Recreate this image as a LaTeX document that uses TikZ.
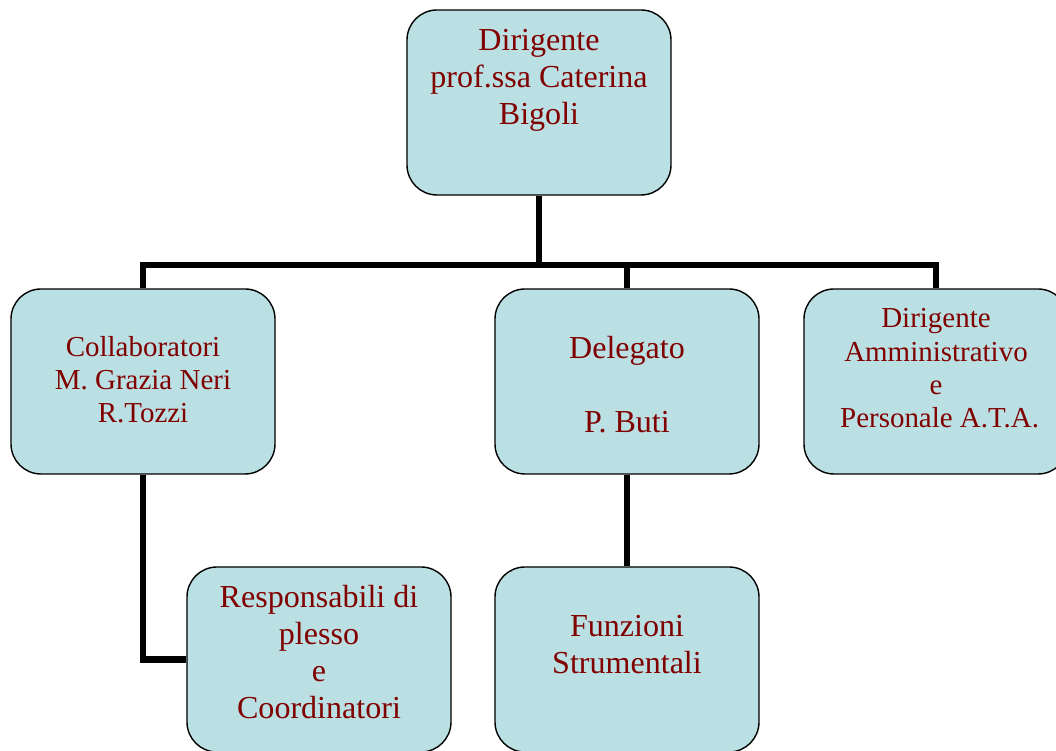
\documentclass[tikz,border=0pt]{standalone}
\usepackage{fontspec}
\setmainfont{Liberation Serif}
\usetikzlibrary{positioning}

\definecolor{boxfill}{RGB}{187,224,228}
\definecolor{txtred}{RGB}{128,0,0}

\begin{document}
\begin{tikzpicture}[
      box/.style={draw=black,line width=1pt,fill=boxfill,rounded corners=0.75cm,
        minimum width=6.6cm,minimum height=4.625cm,inner sep=0pt},
      lbl/.style={text=txtred,align=center,font=\fontsize{22.8}{26.4}\selectfont},
      slbl/.style={text=txtred,align=center,font=\fontsize{20.6}{23.6}\selectfont},
      conn/.style={line width=4.3pt},
    ]
    \useasboundingbox (0,0) rectangle (26.4,18.775);
    \clip (0,0) rectangle (26.4,18.775);

    % boxes
    \node[box] (top)    at (13.475,16.2125) {};
    \node[box] (collab) at (3.575,9.2375) {};
    \node[box] (deleg)  at (15.675,9.2375) {};
    \node[box] (amm)    at (23.4,9.2375) {};
    \node[box] (resp)   at (7.975,2.2875) {};
    \node[box] (funz)   at (15.675,2.2875) {};

    % texts
    \node[lbl]  (toptxt)    at ([yshift=0.55cm]top.center) {Dirigente\\prof.ssa Caterina\\Bigoli};
    \node[slbl] (collabtxt) at ([yshift=0.05cm]collab.center) {Collaboratori\\M. Grazia Neri\\R.Tozzi};
    \node[lbl]  (delegtxt)  at ([yshift=-0.08cm]deleg.center) {Delegato\\[26.4pt]P. Buti};
    \node[slbl] (ammtxt)    at ([yshift=0.33cm]amm.center) {Dirigente\\Amministrativo\\e\\\ Personale A.T.A.};
    \node[lbl]  (resptxt)   at ([yshift=0.18cm]resp.center) {Responsabili di\\plesso\\e\\Coordinatori};
    \node[lbl]  (funztxt)   at ([yshift=0.38cm]funz.center) {Funzioni\\Strumentali};

    % connectors
    \coordinate (bus) at (13.475,12.15);
    \draw[conn] (top.south) -- (bus);
    \draw[conn] (collab.north) |- (bus) -| (amm.north);
    \draw[conn] (deleg.north) -- (deleg.north |- bus);
    \draw[conn] (collab.south) |- (resp.west);
    \draw[conn] (deleg.south) -- (funz.north);
  \end{tikzpicture}
\end{document}
